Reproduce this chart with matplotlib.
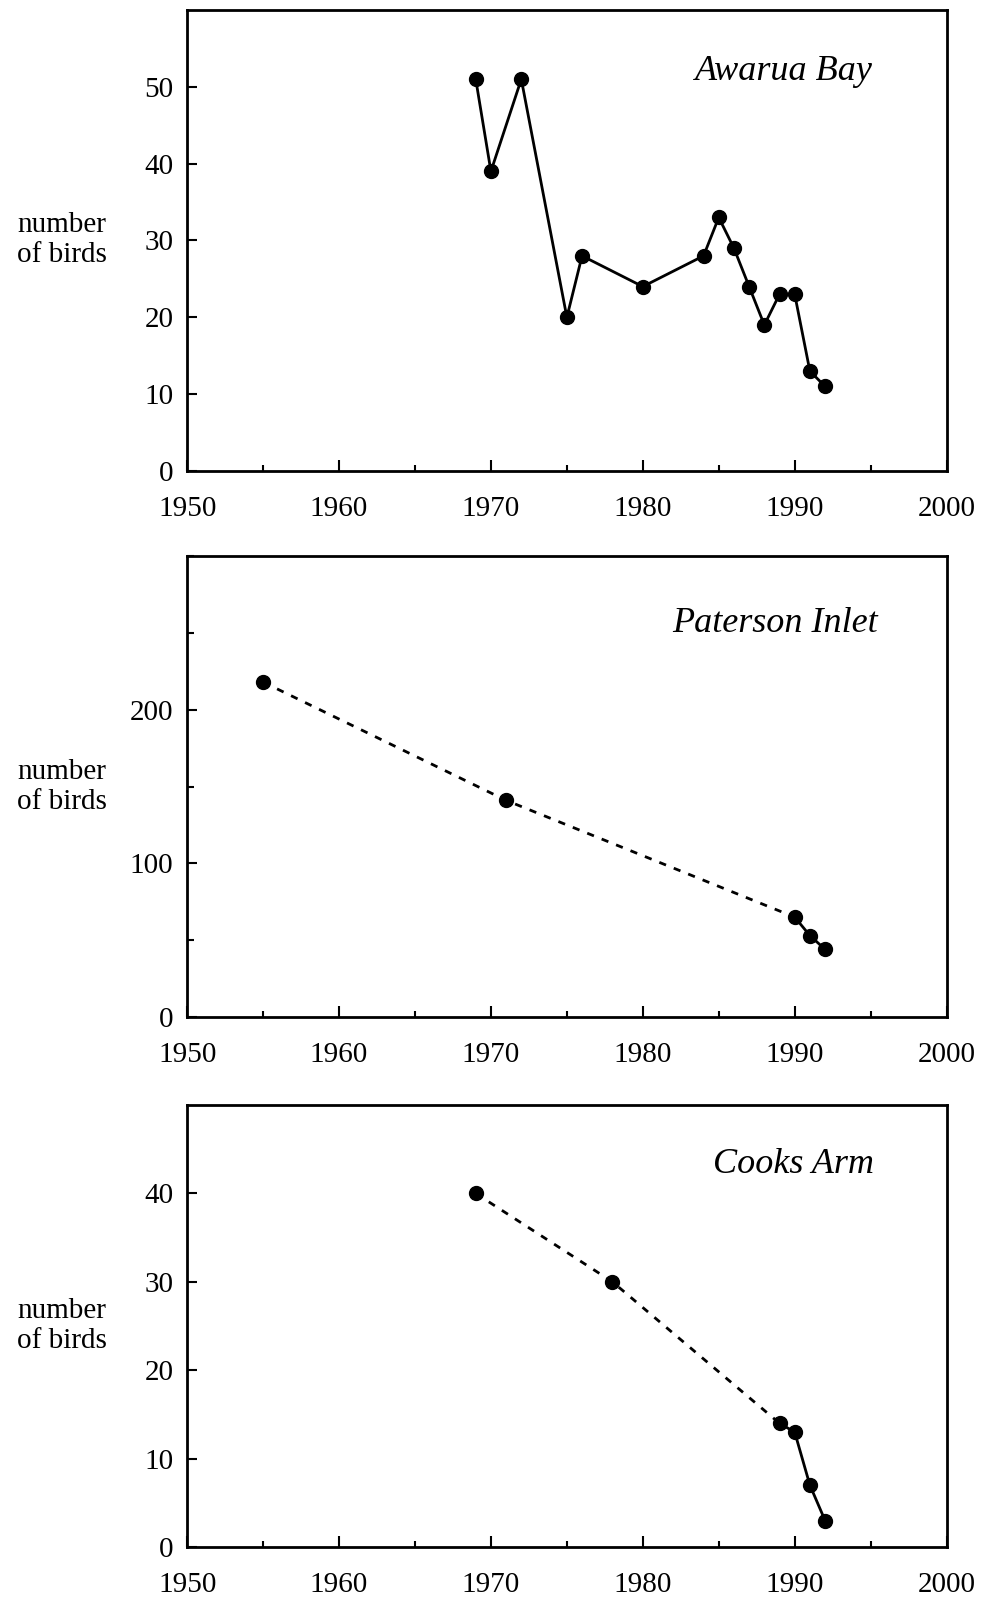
import matplotlib
matplotlib.use("Agg")
import matplotlib.pyplot as plt
from matplotlib.ticker import MultipleLocator

plt.rcParams['font.family'] = ['Liberation Serif', 'DejaVu Serif']

# ---- data ----
awarua_years = [1969, 1970, 1972, 1975, 1976, 1980, 1984, 1985, 1986, 1987, 1988, 1989, 1990, 1991, 1992]
awarua_birds = [51, 39, 51, 20, 28, 24, 28, 33, 29, 24, 19, 23, 23, 13, 11]

paterson_years = [1955, 1971, 1990, 1991, 1992]
paterson_birds = [218, 141, 65, 53, 44]
paterson_dashed_n = 3   # first 3 points joined by dashed line

cooks_years = [1969, 1978, 1989, 1990, 1991, 1992]
cooks_birds = [40, 30, 14, 13, 7, 3]
cooks_dashed_n = 3

titles = ["Awarua Bay", "Paterson Inlet", "Cooks Arm"]
ylims = [60, 300, 50]
ymajor = [10, 100, 10]
ylabel_max = [50, 200, 40]
xticks = [1950, 1960, 1970, 1980, 1990, 2000]

fig = plt.figure(figsize=(9.85, 15.98), dpi=100)

boxes = [  # left, bottom, width, height in figure fraction
    (0.190, 0.7053, 0.771, 0.2884),
    (0.190, 0.3636, 0.771, 0.2884),
    (0.190, 0.0319, 0.771, 0.2766),
]
title_pos = [(0.903, 0.848), (0.909, 0.835), (0.905, 0.846)]

lw = 2.0
ms = 10
dash = (2.6, 3.0)

axes = [fig.add_axes(b) for b in boxes]

# panel 1
axes[0].plot(awarua_years, awarua_birds, '-', color='black', lw=lw,
             marker='o', ms=ms, mfc='black', mec='black')

# panel 2
n = paterson_dashed_n
axes[1].plot(paterson_years[:n], paterson_birds[:n], color='black', lw=lw, linestyle=(0, dash))
axes[1].plot(paterson_years[n-1:], paterson_birds[n-1:], '-', color='black', lw=lw)
axes[1].plot(paterson_years, paterson_birds, 'o', color='black', ms=ms)

# panel 3
n = cooks_dashed_n
axes[2].plot(cooks_years[:n], cooks_birds[:n], color='black', lw=lw, linestyle=(0, dash))
axes[2].plot(cooks_years[n-1:], cooks_birds[n-1:], '-', color='black', lw=lw)
axes[2].plot(cooks_years, cooks_birds, 'o', color='black', ms=ms)

for i, ax in enumerate(axes):
    ax.set_xlim(1950, 2000)
    ax.set_ylim(0, ylims[i])
    ax.set_xticks(xticks)
    ax.set_xticklabels([str(t) for t in xticks])
    ax.xaxis.set_minor_locator(MultipleLocator(5))
    yt = list(range(0, ylabel_max[i] + 1, ymajor[i]))
    ax.set_yticks(yt)
    ax.set_yticklabels([str(t) for t in yt])
    if i == 1:
        ax.yaxis.set_minor_locator(MultipleLocator(50))
    ax.tick_params(axis='x', which='major', direction='in', length=8, width=1.5,
                   labelsize=21, pad=18, top=False)
    ax.tick_params(axis='x', which='minor', direction='in', length=4, width=1.5, top=False)
    ax.tick_params(axis='y', which='major', direction='in', length=7, width=1.5,
                   labelsize=21, pad=10, right=False)
    ax.tick_params(axis='y', which='minor', direction='in', length=5, width=1.5, right=False)
    for s in ax.spines.values():
        s.set_linewidth(2)
    tx, ty = title_pos[i]
    ax.text(tx, ty, titles[i], transform=ax.transAxes, ha='right', va='baseline',
            fontsize=26, style='italic')
    # y label
    bb = boxes[i]
    fig.text(0.063, bb[1] + bb[3] / 2, "number\nof birds", ha='center', va='center',
             fontsize=21, linespacing=1.2)

fig.savefig("out.png", dpi=100)
